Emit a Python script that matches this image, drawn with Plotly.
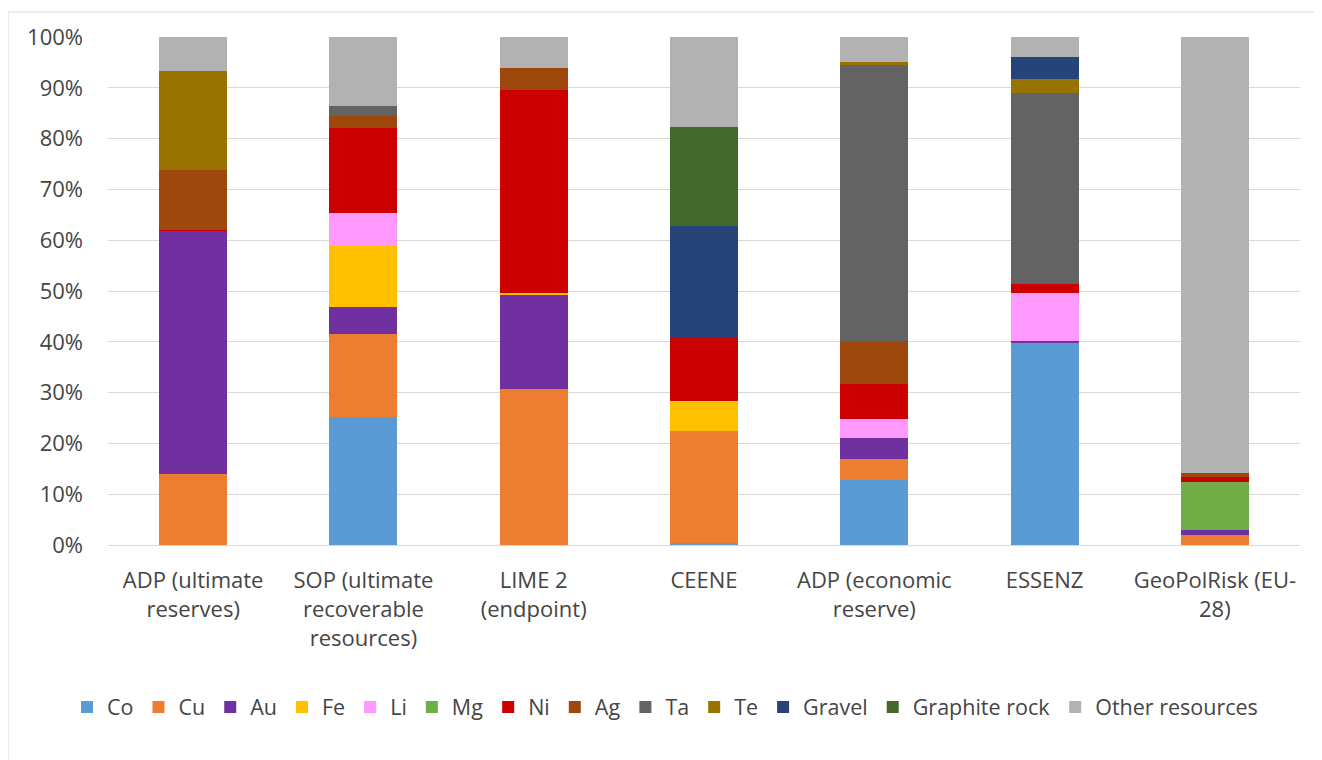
import plotly.graph_objects as go

categories = ["ADP (ultimate<br>reserves)", "SOP (ultimate<br>recoverable<br>resources)",
              "LIME 2<br>(endpoint)", "CEENE", "ADP (economic<br>reserve)", "ESSENZ",
              "GeoPolRisk (EU-<br>28)"]

Co = [0.0, 25.2, 0.0, 0.4, 12.7, 39.9, 0.0]
Cu = [13.9, 16.3, 30.8, 22.1, 4.3, 0.0, 1.9]
Au = [48.0, 5.3, 18.5, 0.0, 4.0, 0.2, 1.0]
Fe = [0.0, 12.0, 0.4, 5.9, 0.0, 0.0, 0.0]
Li = [0.0, 6.5, 0.0, 0.0, 3.9, 9.6, 0.0]
Mg = [0.0, 0.0, 0.0, 0.0, 0.0, 0.0, 9.6]
Ni = [0.2, 16.8, 39.9, 12.5, 6.8, 1.6, 0.9]
Ag = [11.7, 2.4, 4.3, 0.0, 8.5, 0.0, 0.8]
Ta = [0.0, 1.9, 0.0, 0.0, 54.2, 37.6, 0.0]
Te = [19.6, 0.0, 0.0, 0.0, 0.7, 2.8, 0.0]
Gravel = [0.0, 0.0, 0.0, 21.8, 0.0, 4.4, 0.0]
Graphite = [0.0, 0.0, 0.0, 19.5, 0.0, 0.0, 0.0]
Other = [6.6, 13.6, 6.1, 17.8, 4.9, 3.9, 85.8]

series = [
    ("Co", Co, "#5B9BD5"),
    ("Cu", Cu, "#ED7D31"),
    ("Au", Au, "#7030A0"),
    ("Fe", Fe, "#FFC000"),
    ("Li", Li, "#FF99FF"),
    ("Mg", Mg, "#70AD47"),
    ("Ni", Ni, "#CC0000"),
    ("Ag", Ag, "#9E480E"),
    ("Ta", Ta, "#636363"),
    ("Te", Te, "#997300"),
    ("Gravel", Gravel, "#264478"),
    ("Graphite rock", Graphite, "#43682B"),
    ("Other resources", Other, "#B2B2B2"),
]

fig = go.Figure()
for name, vals, col in series:
    fig.add_trace(go.Bar(x=categories, y=[v / 100 for v in vals], name=name,
                         marker=dict(color=col, line=dict(width=0))))

font_fam = "Open Sans"
txt_col = "#454545"

W, H = 1314, 752
L, R, T, B = 100, 22, 29, 215
PW, PH = W - L - R, H - T - B

fig.update_layout(
    barmode="stack",
    bargap=0.6,
    width=W, height=H,
    margin=dict(l=L, r=R, t=T, b=B, autoexpand=False),
    paper_bgcolor="white", plot_bgcolor="white",
    font=dict(family=font_fam, color=txt_col, size=22),
    legend=dict(orientation="h", xref="container", x=0.5, xanchor="center",
                y=-0.319, yanchor="middle",
                font=dict(size=21.5, color=txt_col), traceorder="normal",
                itemwidth=30, tracegroupgap=0),
    xaxis=dict(showgrid=False, showline=True, linecolor="#d9d9d9", linewidth=1,
               tickfont=dict(size=22, color=txt_col), ticks="", ticklabelstandoff=16),
    yaxis=dict(range=[0, 1], tickformat=".0%", dtick=0.1, showgrid=True,
               gridcolor="#d9d9d9", gridwidth=1, zeroline=False, showline=False,
               tickfont=dict(size=22, color=txt_col), ticks="", ticklabelstandoff=24),
    shapes=[dict(type="rect", xref="paper", yref="paper",
                 x0=(0 - L) / PW, x1=(1312 - L) / PW,
                 y0=(H - B - 800) / PH, y1=(H - B - 4) / PH,
                 line=dict(color="#d9d9d9", width=1), fillcolor="rgba(0,0,0,0)",
                 layer="below")],
)

fig.write_html("out.html")
